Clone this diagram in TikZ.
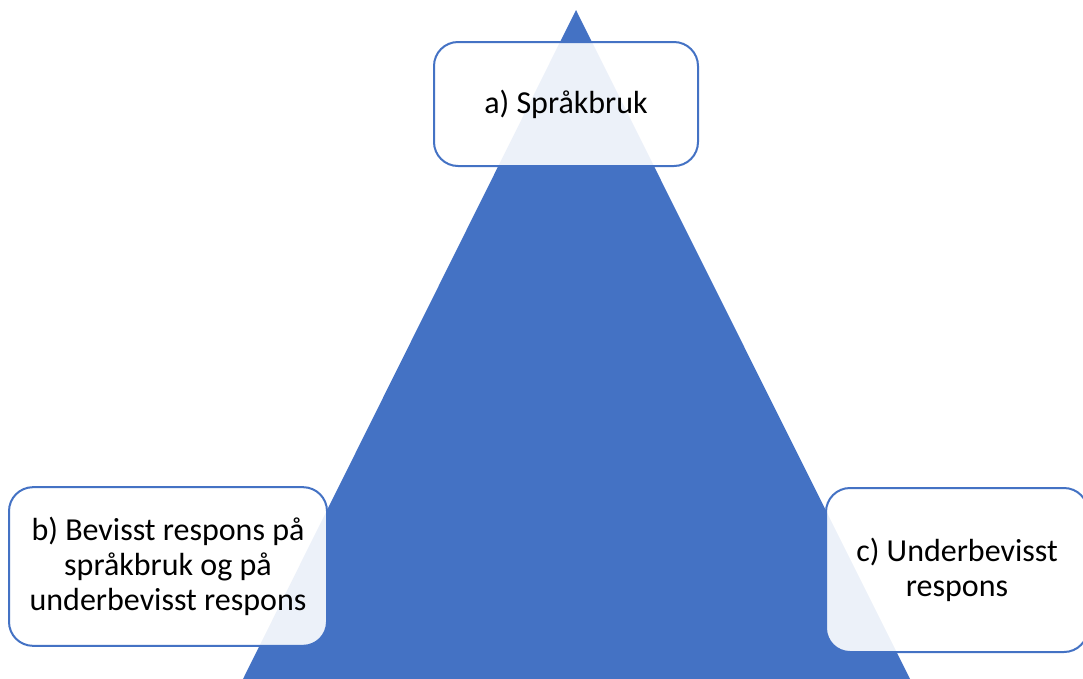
\documentclass[tikz,border=0pt]{standalone}
\usepackage{fontspec}
\setmainfont{Carlito}
\usetikzlibrary{positioning}
\definecolor{triblue}{HTML}{4472C4}
\tikzset{
  % big triangle
  tri/.style={fill=triblue},
  % corner boxes, see-through fill
  part/.style={draw=triblue,line width=1.5pt,fill=white,fill opacity=0.9,
    text opacity=1,rounded corners=18pt,align=center,inner sep=0pt,
    font=\fontsize{24}{26.3}\selectfont},
}
\begin{document}
\begin{tikzpicture}[x=0.75pt,y=-0.75pt]
\useasboundingbox (0,0) rectangle (1083,679);
\clip (0,0) rectangle (1083,679);

%% ---- triangle ----
\coordinate (apex) at (576,10);
\coordinate (baseL) at (243,679);
\coordinate (baseR) at (910,679);
\fill[tri] (apex) -- (baseL) -- (baseR) -- cycle;

%% ---- corner boxes ----
\node[part,minimum width=198pt,minimum height=93pt] (sprak) at (566,104)
  {a) Språkbruk};
\node[part,minimum width=238.5pt,minimum height=119pt] (bevisst) at (168,566.5)
  {b) Bevisst respons på\\språkbruk og på\\underbevisst respons};
\node[part,minimum width=196.5pt,minimum height=123pt] (under) at (957,570)
  {c) Underbevisst\\respons};
\end{tikzpicture}
\end{document}
